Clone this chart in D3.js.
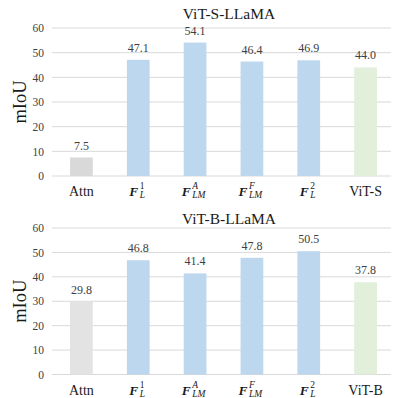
<!DOCTYPE html>
<html><head><meta charset="utf-8">
<script src="https://cdn.jsdelivr.net/npm/d3@7"></script>
<style>body{margin:0;background:#fff}svg{display:block}svg text{font-family:"Liberation Serif","DejaVu Serif",serif}</style>
</head><body>
<script>
// Data
const titles = ["ViT-S-LLaMA", "ViT-B-LLaMA"];
const categoriesTop = ["Attn", "F|L|1", "F|LM|A", "F|LM|F", "F|L|2", "ViT-S"];
const categoriesBottom = ["Attn", "F|L|1", "F|LM|A", "F|LM|F", "F|L|2", "ViT-B"];
const valuesTop = [7.5, 47.1, 54.1, 46.4, 46.9, 44.0];
const valuesBottom = [29.8, 46.8, 41.4, 47.8, 50.5, 37.8];
const barKinds = ["attn", "feat", "feat", "feat", "feat", "vit"];
const yTicks = [0, 10, 20, 30, 40, 50, 60];
const yLabel = "mIoU";

const colors = {attn: "#d9d9d9", feat: "#bdd7ee", vit: "#e2efda"};
const W = 393, H = 398;
const svg = d3.select("body").append("svg").attr("width", W).attr("height", H);

const panels = [
  {title: titles[0], cats: categoriesTop, vals: valuesTop, y0: 176, y1: 28, titleY: 19, labY: 195.5, attnColor: "#d9d9d9"},
  {title: titles[1], cats: categoriesBottom, vals: valuesBottom, y0: 374.5, y1: 228, titleY: 224, labY: 394.5, attnColor: "#e3e3e3"}
];

const meas = svg.append("text").attr("font-size", 9.5).attr("visibility", "hidden");
function measure(t, italic) {
  meas.attr("font-style", italic ? "italic" : "normal").text(t);
  return meas.node().getComputedTextLength();
}

panels.forEach(p => {
  const g = svg.append("g");
  const x = d3.scaleBand().domain(p.cats).range([53, 394]).paddingInner(0.6).paddingOuter(0.3);
  const y = d3.scaleLinear().domain([0, 60]).range([p.y0, p.y1]);

  g.selectAll("line.grid").data(yTicks).join("line")
    .attr("x1", 52).attr("x2", 391)
    .attr("y1", d => y(d)).attr("y2", d => y(d))
    .attr("stroke", "#d9d9d9").attr("stroke-width", 1);

  const yAxis = d3.axisLeft(y).tickValues(yTicks).tickSize(0).tickPadding(0);
  const ya = g.append("g").attr("transform", "translate(44,0)").call(yAxis);
  ya.attr("font-family", null).attr("font-size", null);
  ya.select(".domain").remove();
  ya.selectAll("text").attr("font-size", 11.5).attr("fill", "#404040");

  g.selectAll("rect.bar").data(p.vals).join("rect")
    .attr("x", (d, i) => x(p.cats[i]))
    .attr("width", x.bandwidth())
    .attr("y", d => y(d))
    .attr("height", d => y(0) - y(d))
    .attr("fill", (d, i) => barKinds[i] === "attn" ? p.attnColor : colors[barKinds[i]]);

  g.selectAll("text.val").data(p.vals).join("text")
    .attr("x", (d, i) => x(p.cats[i]) + x.bandwidth() / 2)
    .attr("y", d => y(d) - 8)
    .attr("text-anchor", "middle")
    .attr("font-size", 12).attr("fill", "#404040")
    .text(d => d.toFixed(1));

  g.append("text").attr("x", 229).attr("y", p.titleY).attr("text-anchor", "middle")
    .attr("font-size", 15.5).attr("fill", "#1a1a1a").text(p.title);

  g.append("text")
    .attr("transform", `translate(26,${(p.y0 + p.y1) / 2}) rotate(-90)`)
    .attr("text-anchor", "middle").attr("font-size", 18.5).attr("fill", "#1a1a1a").text(yLabel);

  p.cats.forEach(c => {
    const cx = x(c) + x.bandwidth() / 2;
    if (c.indexOf("|") < 0) {
      g.append("text").attr("x", cx).attr("y", p.labY).attr("text-anchor", "middle")
        .attr("font-size", 14).attr("fill", "#1a1a1a").text(c);
    } else {
      const [m, sub, sup] = c.split("|");
      const supItalic = isNaN(+sup);
      const supW = measure(sup, supItalic);
      const t = g.append("text").attr("y", p.labY).attr("fill", "#1a1a1a");
      t.append("tspan").attr("font-size", 13.5).attr("font-weight", "bold").attr("font-style", "italic").text(m);
      t.append("tspan").attr("font-size", 9.5).attr("font-style", supItalic ? "italic" : "normal")
        .attr("dx", 1.5).attr("dy", -6.5).text(sup);
      t.append("tspan").attr("font-size", 9.5).attr("font-style", "italic")
        .attr("dx", -supW).attr("dy", 9).text(sub);
      const tw = t.node().getBBox().width;
      t.attr("x", cx - tw / 2 - 0.5);
    }
  });
});
meas.remove();
</script>
</body></html>
